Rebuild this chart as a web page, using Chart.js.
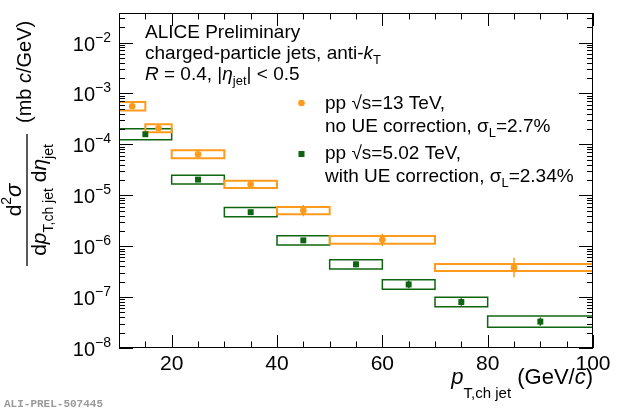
<!DOCTYPE html>
<html>
<head>
<meta charset="utf-8">
<script src="https://cdn.jsdelivr.net/npm/chart.js@4.4.1/dist/chart.umd.min.js"></script>
<style>
  html, body { margin: 0; padding: 0; background: #fff; }
  #wrap { width: 620px; height: 412px; position: relative; }
</style>
</head>
<body>
<div id="wrap"><canvas id="spectrumChart"></canvas></div>
<script>
// === pp jet spectra, 13 TeV vs 5.02 TeV ===

// 13 TeV, no UE correction
const orangeEdges = [10, 15, 20, 30, 40, 50, 70, 100];
const orangeX = [12.5, 17.5, 25, 35, 45, 60, 85];
const orangeY = [5.6e-4, 2.07e-4, 6.4e-5, 1.64e-5, 5.0e-6, 1.33e-6, 3.8e-7];
const orangeStat = [0.04, 0.05, 0.08, 0.12, 0.25, 0.28, 0.5];
const orangeSyst = [0.21, 0.2, 0.2, 0.18, 0.18, 0.19, 0.17];

// 5.02 TeV, with UE correction
const greenEdges = [10, 20, 30, 40, 50, 60, 70, 80, 100];
const greenX = [15, 25, 35, 45, 55, 65, 75, 90];
const greenY = [1.58e-4, 2.03e-5, 4.65e-6, 1.3e-6, 4.4e-7, 1.77e-7, 8.0e-8, 3.3e-8];
const greenStat = [0.04, 0.05, 0.06, 0.08, 0.1, 0.15, 0.15, 0.16];
const greenSyst = [0.28, 0.22, 0.23, 0.23, 0.23, 0.24, 0.24, 0.29];

// axes
const xTickLabels = [20, 40, 60, 80, 100];
const xMinorStep = 5;
const yTickExp = [-8, -7, -6, -5, -4, -3, -2];

const ORANGE = "#ff9a1c";
const GREEN = "#0f640f";
const FONT = '"Liberation Sans", Arial, Helvetica, sans-serif';
const f = (size, style) => `${style || ""} ${size}px ${FONT}`;

function boxes(edges, ys, syst) {
  const pts = [];
  ys.forEach((v, i) => {
    const lo = v / (1 + syst[i]), hi = v * (1 + syst[i]);
    const a = edges[i], b = edges[i + 1];
    pts.push({ x: a, y: lo }, { x: b, y: lo }, { x: b, y: hi }, { x: a, y: hi }, { x: a, y: lo }, { x: a, y: null });
  });
  return pts;
}

function errBars(xs, ys, stat) {
  const pts = [];
  ys.forEach((v, i) => {
    pts.push({ x: xs[i], y: v / (1 + stat[i]) }, { x: xs[i], y: v * (1 + stat[i]) }, { x: xs[i], y: null });
  });
  return pts;
}

const toPts = (xs, ys) => ys.map((v, i) => ({ x: xs[i], y: v }));

// rich text: parts = [text, font, dy]
function runWidth(ctx, parts) {
  let w = 0;
  for (const [t, fo] of parts) { ctx.font = fo; w += ctx.measureText(t).width; }
  return w;
}
function drawRun(ctx, x, y, parts) {
  let cx = x;
  for (const [t, fo, dy] of parts) {
    ctx.font = fo;
    ctx.fillText(t, cx, y + (dy || 0));
    cx += ctx.measureText(t).width;
  }
  return cx - x;
}

const framePlugin = {
  id: "frame",
  afterDatasetsDraw(chart) {
    const { ctx, chartArea: a, scales: { x, y } } = chart;
    ctx.save();
    ctx.strokeStyle = "#000";
    ctx.lineWidth = 1;
    ctx.strokeRect(a.left + 0.5, a.top + 0.5, a.right - a.left - 1, a.bottom - a.top - 1);
    ctx.beginPath();
    // x ticks, bottom and top
    for (let v = x.min; v <= x.max; v += xMinorStep) {
      const px = Math.round(x.getPixelForValue(v)) + 0.5;
      const len = xTickLabels.includes(v) ? 13 : 6.5;
      ctx.moveTo(px, a.bottom); ctx.lineTo(px, a.bottom - len);
      ctx.moveTo(px, a.top); ctx.lineTo(px, a.top + len);
    }
    // y ticks, left and right
    yTickExp.forEach(e => {
      for (let m = 1; m <= 9; m++) {
        const v = m * Math.pow(10, e);
        if (v > y.max * 1.0001 || v < y.min * 0.9999) continue;
        const py = Math.round(y.getPixelForValue(v)) + 0.5;
        const len = m === 1 ? 14 : 6;
        ctx.moveTo(a.left, py); ctx.lineTo(a.left + len, py);
        ctx.moveTo(a.right, py); ctx.lineTo(a.right - len, py);
      }
    });
    ctx.stroke();
    ctx.restore();
  },
  afterDraw(chart) {
    const { ctx, chartArea: a, scales: { x, y } } = chart;
    ctx.save();
    ctx.fillStyle = "#000";
    ctx.textBaseline = "alphabetic";

    // x tick labels
    ctx.textAlign = "center";
    ctx.font = f(21);
    xTickLabels.forEach(v => ctx.fillText(String(v), x.getPixelForValue(v), a.bottom + 22));

    // y tick labels 10^e
    ctx.textAlign = "left";
    yTickExp.forEach(e => {
      const py = y.getPixelForValue(Math.pow(10, e));
      const parts = [["10", f(20), 0], ["\u2212" + Math.abs(e), f(14), -9]];
      const w = runWidth(ctx, parts);
      drawRun(ctx, 111 - w, py + 8, parts);
    });

    // x title
    const xt = [["p", f(22, "italic"), 0], ["T,ch jet", f(15), 14], [" (GeV/", f(22), 0], ["c", f(22, "italic"), 0], [")", f(22), 0]];
    drawRun(ctx, a.right - runWidth(ctx, xt), 384, xt);

    // y title, rotated fraction
    ctx.save();
    ctx.translate(27, 200);
    ctx.rotate(-Math.PI / 2);
    ctx.lineWidth = 1.3;
    ctx.beginPath(); ctx.moveTo(-66, 0); ctx.lineTo(66, 0); ctx.stroke();
    const num = [["d", f(21), 0], ["2", f(14), -10], ["\u03c3", f(22, "italic"), 0]];
    drawRun(ctx, -runWidth(ctx, num) / 2, -6, num);
    const den = [["d", f(21), 0], ["p", f(21, "italic"), 0], ["T,ch jet", f(14), 7], [" d", f(21), 0], ["\u03b7", f(21, "italic"), 0], ["jet", f(14), 7]];
    drawRun(ctx, -runWidth(ctx, den) / 2, 19, den);
    const unit = [["(mb ", f(20), 0], ["c", f(20, "italic"), 0], ["/GeV)", f(20), 0]];
    drawRun(ctx, 77, 4, unit);
    ctx.restore();

    // header
    drawRun(ctx, 145, 38, [["ALICE Preliminary", f(19)]]);
    drawRun(ctx, 145, 59, [["charged-particle jets, anti-", f(19)], ["k", f(19, "italic")], ["T", f(13), 5]]);
    drawRun(ctx, 145, 80, [["R", f(19, "italic")], [" = 0.4, |", f(19)], ["\u03b7", f(19, "italic")], ["jet", f(13), 5], ["| < 0.5", f(19)]]);

    // legend
    ctx.fillStyle = ORANGE;
    ctx.beginPath(); ctx.arc(301.5, 103, 3.3, 0, Math.PI * 2); ctx.fill();
    ctx.fillStyle = GREEN;
    ctx.fillRect(298.5, 151, 6, 6);
    ctx.fillStyle = "#000";
    drawRun(ctx, 325, 109, [["pp \u221as=13 TeV,", f(19)]]);
    drawRun(ctx, 325, 132, [["no UE correction, \u03c3", f(19)], ["L", f(13), 5], ["=2.7%", f(19)]]);
    drawRun(ctx, 325, 159, [["pp \u221as=5.02 TeV,", f(19)]]);
    drawRun(ctx, 325, 182, [["with UE correction, \u03c3", f(19)], ["L", f(13), 5], ["=2.34%", f(19)]]);

    // id tag
    ctx.fillStyle = "#9a9a9a";
    ctx.font = 'bold 11px "Liberation Mono", "DejaVu Sans Mono", monospace';
    ctx.fillText("ALI-PREL-507445", 4, 407);
    ctx.restore();
  }
};

const lineDs = (data, color, width, order) => ({
  data, borderColor: color, borderWidth: width, pointRadius: 0,
  showLine: true, spanGaps: false, tension: 0, fill: false,
  borderCapStyle: "square", borderJoinStyle: "miter", order
});

new Chart(document.getElementById("spectrumChart"), {
  type: "line",
  data: {
    datasets: [
      lineDs(boxes(greenEdges, greenY, greenSyst), GREEN, 1.5, 6),
      lineDs(boxes(orangeEdges, orangeY, orangeSyst), ORANGE, 2, 5),
      lineDs(errBars(greenX, greenY, greenStat), GREEN, 1.5, 4),
      lineDs(errBars(orangeX, orangeY, orangeStat), ORANGE, 1.5, 3),
      {
        data: toPts(greenX, greenY), showLine: false, pointStyle: "rect",
        pointRadius: 4.2, pointBackgroundColor: GREEN, pointBorderWidth: 0, order: 2
      },
      {
        data: toPts(orangeX, orangeY), showLine: false, pointStyle: "circle",
        pointRadius: 3.3, pointBackgroundColor: ORANGE, pointBorderWidth: 0, order: 1
      }
    ]
  },
  options: {
    responsive: true,
    maintainAspectRatio: false,
    animation: false,
    layout: { padding: { left: 119, right: 27, top: 13, bottom: 64 } },
    scales: {
      x: { type: "linear", min: 10, max: 100, display: false },
      y: { type: "logarithmic", min: 1e-8, max: 0.038, display: false }
    },
    plugins: {
      legend: { display: false },
      tooltip: { enabled: false }
    }
  },
  plugins: [framePlugin]
});
</script>
</body>
</html>
